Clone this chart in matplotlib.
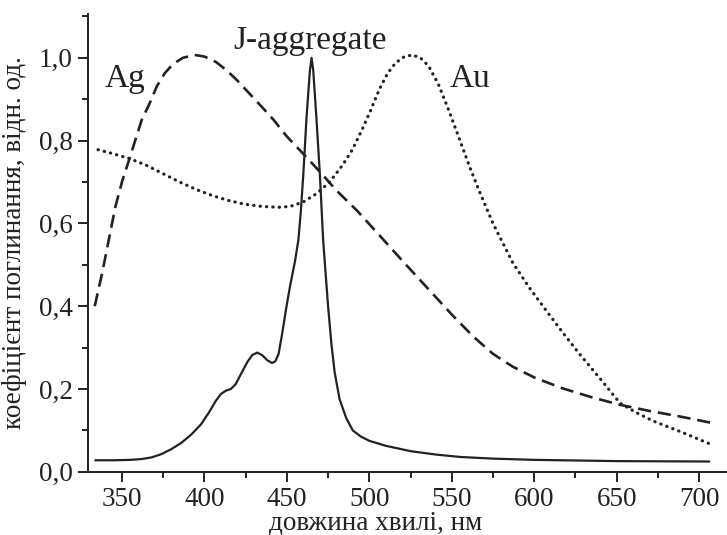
import numpy as np
import matplotlib
matplotlib.use("Agg")
import matplotlib.pyplot as plt
from matplotlib.ticker import MultipleLocator, FuncFormatter

# J-aggregate absorption (solid)
jWl = [334, 345, 355, 362, 368, 374, 380, 386, 392, 398, 403, 407, 410, 413,
       416, 419, 422, 426, 429, 432, 435, 438, 441, 443, 445, 447, 449.8, 452,
       455, 457, 458.5, 460, 462, 464, 465, 466, 468, 470, 472, 475, 477, 479,
       482, 486, 490, 495, 500, 510, 525, 540, 555, 575, 600, 650, 706]
jAbs = [0.028, 0.028, 0.029, 0.031, 0.035, 0.043, 0.055, 0.070, 0.090, 0.115,
        0.145, 0.172, 0.188, 0.196, 0.200, 0.212, 0.235, 0.265, 0.282, 0.288,
        0.282, 0.270, 0.263, 0.267, 0.285, 0.330, 0.400, 0.450, 0.510, 0.560,
        0.630, 0.720, 0.860, 0.970, 1.000, 0.970, 0.850, 0.720, 0.560, 0.400,
        0.310, 0.240, 0.175, 0.130, 0.100, 0.085, 0.075, 0.063, 0.050, 0.042,
        0.036, 0.032, 0.029, 0.026, 0.025]

# Ag nanoparticles (dashed)
agWl = [333.5, 338, 342, 346, 350, 354.7, 358, 362, 366.8, 371, 376, 381, 387,
        394, 400, 407, 414, 420, 427, 434, 442, 450, 460, 470, 480, 493, 506,
        520, 535, 550, 563, 575, 587, 600, 617, 635, 652, 670, 688, 708]
agAbs = [0.40, 0.48, 0.56, 0.64, 0.70, 0.758, 0.80, 0.85, 0.89, 0.93, 0.963,
         0.985, 1.0, 1.007, 1.003, 0.99, 0.968, 0.945, 0.915, 0.885, 0.85,
         0.81, 0.768, 0.725, 0.68, 0.629, 0.572, 0.51, 0.445, 0.38, 0.327,
         0.285, 0.254, 0.228, 0.202, 0.18, 0.162, 0.147, 0.134, 0.118]

# Au nanoparticles (dotted)
auWl = [335.5, 345, 355, 365, 375, 385, 395, 405, 415, 425, 435, 445, 452,
        460, 468, 476, 484, 490, 496, 501, 506, 511, 516, 521, 526, 531, 536,
        542, 548, 555, 561, 567, 575, 587, 597, 607, 617, 627, 640, 652, 662,
        672, 690, 708]
auAbs = [0.778, 0.768, 0.756, 0.74, 0.72, 0.70, 0.682, 0.667, 0.655, 0.646,
         0.641, 0.639, 0.641, 0.652, 0.672, 0.70, 0.742, 0.78, 0.83, 0.875,
         0.923, 0.962, 0.988, 1.002, 1.007, 1.0, 0.98, 0.935, 0.875, 0.80,
         0.735, 0.675, 0.60, 0.505, 0.445, 0.391, 0.338, 0.287, 0.225, 0.166,
         0.143, 0.123, 0.095, 0.065]

plt.rcParams["font.family"] = ["Liberation Serif", "DejaVu Serif"]

fig = plt.figure(figsize=(7.27, 5.35), dpi=100)
ax = fig.add_axes([0.121, 0.118, 0.879, 0.856])

col = "#222222"
ax.plot(jWl, jAbs, color=col, lw=1.6, solid_joinstyle="round")
ax.plot(agWl, agAbs, color=col, lw=1.9, linestyle=(0, (5, 2.6)),
        dash_capstyle="butt")
ax.plot(auWl, auAbs, color=col, lw=2.3, linestyle=(0, (0.1, 1.9)),
        dash_capstyle="round")

ax.set_xlim(329.4, 716.9)
ax.set_ylim(0, 1.106)

ax.spines["top"].set_visible(False)
ax.spines["right"].set_visible(False)
for s in ("left", "bottom"):
    ax.spines[s].set_linewidth(1.4)
    ax.spines[s].set_color(col)

ax.xaxis.set_major_locator(MultipleLocator(50))
ax.xaxis.set_minor_locator(MultipleLocator(25))
ax.yaxis.set_major_locator(MultipleLocator(0.2))
ax.yaxis.set_minor_locator(MultipleLocator(0.1))
ax.yaxis.set_major_formatter(FuncFormatter(lambda v, p: f"{v:.1f}".replace(".", ",")))
ax.tick_params(which="major", direction="out", length=7, width=1.4,
               labelsize=19.5, colors=col, pad=4)
ax.tick_params(which="minor", direction="out", length=4, width=1.4, colors=col)

ax.set_xlabel("довжина хвилі, нм", fontsize=19.5, color=col)
ax.xaxis.set_label_coords(0.45, -0.085)
ax.set_ylabel("коефіцієнт поглинання, відн. од.", fontsize=19.5, color=col)
ax.yaxis.set_label_coords(-0.095, 0.5)

ax.text(339.7, 0.95, "Ag", fontsize=24, color=col, va="center", ha="left")
ax.text(464, 1.042, "J-aggregate", fontsize=24, color=col, va="center",
        ha="center")
ax.text(548.8, 0.95, "Au", fontsize=24, color=col, va="center", ha="left")

fig.savefig("out.png", dpi=100)
